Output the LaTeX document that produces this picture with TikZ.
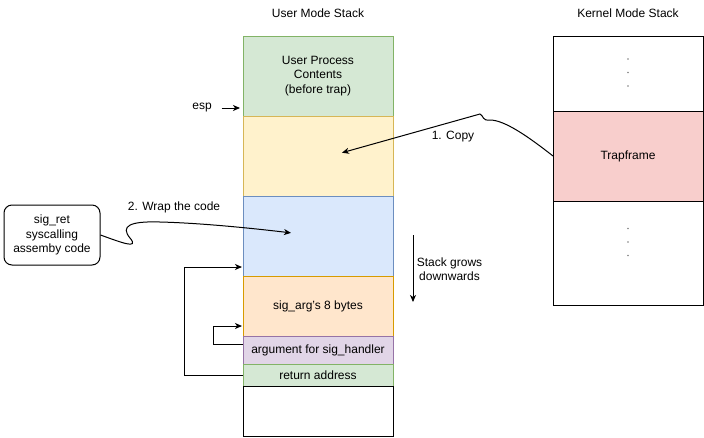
\documentclass[tikz,border=0pt]{standalone}
\usepackage{fontspec}
\setmainfont{Liberation Sans}
\usepackage{xcolor}
\usepackage{tikz}
\usetikzlibrary{arrows.meta,positioning,calc}

\definecolor{gfill}{HTML}{D5E8D4}
\definecolor{gline}{HTML}{82B366}
\definecolor{yfill}{HTML}{FFF2CC}
\definecolor{yline}{HTML}{D6B656}
\definecolor{bfill}{HTML}{DAE8FC}
\definecolor{bline}{HTML}{6C8EBF}
\definecolor{ofill}{HTML}{FFE6CC}
\definecolor{oline}{HTML}{D79B00}
\definecolor{pfill}{HTML}{E1D5E7}
\definecolor{pline}{HTML}{9673A6}
\definecolor{rfill}{HTML}{F8CECC}

\tikzset{
 blk/.style={draw, minimum width=150pt, minimum height=#1, inner sep=0pt, outer sep=0pt, align=center},
 gcell/.style={fill=gfill, draw=gline},
 ycell/.style={fill=yfill, draw=yline},
 bcell/.style={fill=bfill, draw=bline},
 ocell/.style={fill=ofill, draw=oline},
 pcell/.style={fill=pfill, draw=pline},
 rcell/.style={fill=rfill},
}

\begin{document}
\begin{tikzpicture}[x=1pt,y=-1pt,>={Stealth[length=7pt,width=6pt,inset=2pt]},shorten >=1pt,line width=1pt,node distance=0pt,
 font=\fontsize{12}{14.5}\selectfont]
 \useasboundingbox (0,0) rectangle (704,437);
 % user mode stack
 \node[blk=80pt,gcell,anchor=north west] (up) at (243,36) {User Process\\Contents\\(before trap)};
 \node[blk=80pt,ycell] (cp) [below=of up] {};
 \node[blk=80pt,bcell] (wr) [below=of cp] {};
 \node[blk=60pt,ocell] (sa) [below=of wr] {sig\_arg's 8 bytes};
 \node[blk=28pt,pcell] (ah) [below=of sa] {argument for sig\_handler};
 \node[blk=22pt,gcell] (ra) [below=of ah] {return address};
 \node[blk=50pt] (em) [below=of ra] {};
 \node (um) [above=15pt of up] {User Mode Stack};
 % kernel mode stack
 \node[blk=75pt,anchor=north west] (ktop) at (553,36) {};
 \node[blk=90pt,rcell] (tf) [below=of ktop] {Trapframe};
 \node[blk=104pt] (kbot) [below=of tf] {};
 \node (km) [above=15pt of ktop] {Kernel Mode Stack};
 \foreach \n/\s in {ktop/-1,kbot/-11}
  \foreach \d in {-13.5,0,13.5}
   \fill[gray] (\n.center) ++(0,\s+\d) circle (0.8pt);
 % esp
 \node (esp) at (202,108) {esp};
 \draw[->,shorten <=6pt,shorten >=3pt] (esp.east) -- (esp.east -| up.west);
 % stack grows
 \coordinate (sg1) at (413,235);
 \coordinate (sg2) at (413,303);
 \draw[->] (sg1) -- node[right=0pt,align=center] {Stack grows\\downwards} (sg2);
 % sig_ret code
 \node[draw,rounded corners=8pt,minimum width=96pt,minimum height=60pt,align=center] (sr) at (52,235) {sig\_ret\\syscalling\\assemby code};
 \coordinate (wrap) at (292,233);
 \draw[->] (sr.east) .. controls (120,242) and (140,250) .. (130,238)
  .. controls (120,226) and (130,221) .. (160,222)
  .. controls (200,223) and (250,228) .. (wrap);
 \node (wl) at (174,207) {2. Wrap the code};
 % copy trapframe
 \coordinate (copy) at (341,153);
 \draw[->] (tf.west) .. controls (530,138) and (505,120) .. (490,120)
  .. controls (482,121) and (484,116) .. (480,114) -- (copy);
 \node (cl) at (453,137) {1. Copy};
 % return links
 \coordinate (wrin) at ($(wr.south west)+(0,-9)$);
 \coordinate (ahout) at ($(ah.north west)+(0,8)$);
 \coordinate (sain) at ($(sa.south west)+(0,-10)$);
 \draw[->] (ra.west) -- ++(-59,0) |- (wrin);
 \draw[->] (ahout) -- ++(-30,0) |- (sain);
\end{tikzpicture}
\end{document}
